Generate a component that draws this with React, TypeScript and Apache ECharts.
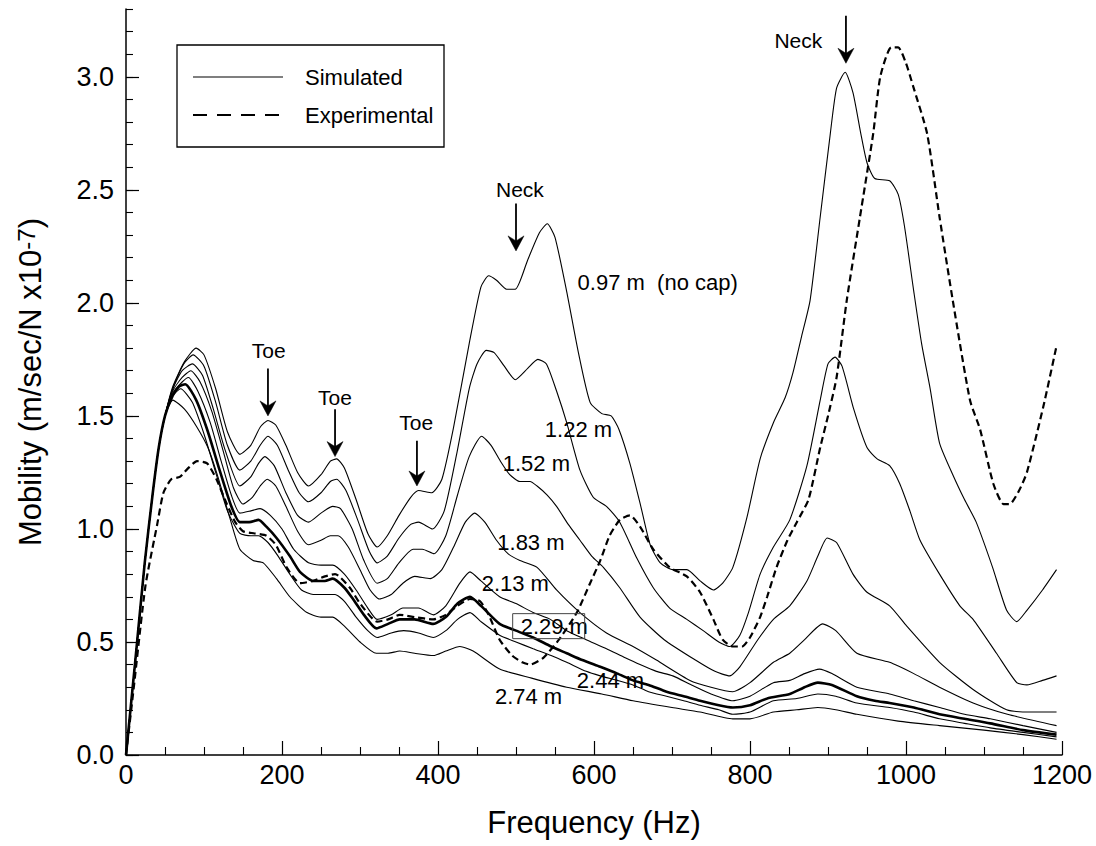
import React, { useEffect, useRef } from "react";
import * as echarts from "echarts";

const FONT = "'Liberation Sans', Arial, Helvetica, sans-serif";

// ---- Data (frequency Hz, mobility m/sec/N x1e-7) ----
const sim097: number[][] = [
  [0, 0], [12, 0.42], [24, 0.85], [34, 1.15], [42, 1.36], [50, 1.5], [60, 1.63], [75, 1.74], [90, 1.8], [100, 1.77],
  [115, 1.62], [130, 1.43], [146, 1.33], [160, 1.37], [172, 1.45], [182, 1.48], [192, 1.46], [205, 1.37], [220, 1.25],
  [234, 1.19], [250, 1.24], [262, 1.3], [270, 1.31], [280, 1.27], [295, 1.13], [310, 0.98], [322, 0.92], [335, 0.97],
  [350, 1.06], [365, 1.14], [375, 1.17], [392, 1.16], [405, 1.22], [420, 1.45], [440, 1.82], [455, 2.07], [465, 2.12],
  [475, 2.1], [488, 2.06], [499, 2.06], [515, 2.19], [530, 2.31], [540, 2.35], [550, 2.29], [565, 2.05], [580, 1.78],
  [595, 1.56], [610, 1.51], [622, 1.5], [632, 1.44], [646, 1.29], [660, 1.1], [672, 0.93], [685, 0.85], [701, 0.82],
  [719, 0.82], [736, 0.77], [753, 0.73], [765, 0.76], [778, 0.83], [796, 1.05], [813, 1.31], [830, 1.47], [845, 1.58],
  [855, 1.69], [866, 1.85], [877, 2.01], [890, 2.38], [903, 2.75], [911, 2.95], [922, 3.02], [932, 2.93], [942, 2.75],
  [950, 2.62], [960, 2.55], [979, 2.54], [990, 2.48], [998, 2.34], [1010, 2.05], [1020, 1.82], [1031, 1.62],
  [1043, 1.38], [1060, 1.24], [1075, 1.13], [1090, 1.03], [1111, 0.83], [1129, 0.64], [1142, 0.59], [1155, 0.64],
  [1175, 0.73], [1193, 0.82],
];

const sim122: number[][] = [
  [0, 0], [12, 0.42], [24, 0.85], [34, 1.15], [42, 1.36], [50, 1.5], [60, 1.62], [74, 1.73], [86, 1.77], [100, 1.72],
  [115, 1.56], [130, 1.37], [146, 1.26], [160, 1.3], [172, 1.37], [182, 1.41], [194, 1.37], [208, 1.26], [222, 1.16],
  [234, 1.12], [250, 1.16], [262, 1.21], [270, 1.22], [282, 1.17], [297, 1.04], [312, 0.9], [322, 0.85], [335, 0.88],
  [350, 0.96], [365, 1.02], [375, 1.03], [393, 1.0], [408, 1.08], [425, 1.35], [440, 1.62], [450, 1.73], [462, 1.79],
  [472, 1.78], [485, 1.72], [499, 1.66], [515, 1.71], [528, 1.75], [539, 1.73], [552, 1.61], [565, 1.47], [582, 1.26],
  [599, 1.14], [616, 1.1], [633, 1.03], [655, 0.87], [676, 0.74], [697, 0.65], [719, 0.6], [740, 0.55], [760, 0.5],
  [774, 0.48], [787, 0.53], [798, 0.63], [813, 0.8], [830, 0.92], [851, 1.04], [873, 1.28], [890, 1.57], [900, 1.73],
  [909, 1.76], [918, 1.72], [933, 1.53], [950, 1.36], [963, 1.31], [979, 1.28], [992, 1.2], [1005, 1.08], [1018, 0.95],
  [1043, 0.8], [1069, 0.66], [1086, 0.6], [1116, 0.45], [1142, 0.32], [1155, 0.31], [1175, 0.33], [1193, 0.35],
];

const sim152: number[][] = [
  [0, 0], [12, 0.42], [24, 0.85], [34, 1.15], [42, 1.36], [50, 1.5], [60, 1.62], [72, 1.7], [85, 1.73], [98, 1.68],
  [112, 1.53], [127, 1.35], [146, 1.19], [160, 1.23], [170, 1.29], [178, 1.32], [190, 1.28], [205, 1.16], [220, 1.06],
  [234, 1.03], [250, 1.07], [265, 1.1], [275, 1.09], [290, 1.0], [305, 0.86], [322, 0.76], [335, 0.78], [350, 0.85],
  [368, 0.91], [380, 0.91], [395, 0.89], [410, 0.97], [425, 1.15], [440, 1.32], [456, 1.41], [468, 1.37], [480, 1.3],
  [492, 1.24], [505, 1.21], [518, 1.21], [527, 1.19], [540, 1.15], [552, 1.1], [567, 1.02], [582, 0.95], [597, 0.88],
  [612, 0.83], [633, 0.74], [659, 0.61], [690, 0.51], [730, 0.42], [755, 0.37], [774, 0.35], [787, 0.39], [810, 0.51],
  [830, 0.6], [851, 0.66], [873, 0.77], [887, 0.88], [899, 0.96], [911, 0.94], [932, 0.8], [950, 0.72], [979, 0.66],
  [1001, 0.57], [1043, 0.41], [1086, 0.29], [1129, 0.2], [1160, 0.19], [1193, 0.19],
];

const sim183: number[][] = [
  [0, 0], [12, 0.42], [24, 0.85], [34, 1.15], [42, 1.36], [50, 1.5], [60, 1.61], [72, 1.67], [83, 1.7], [95, 1.65],
  [110, 1.52], [125, 1.34], [138, 1.18], [150, 1.11], [162, 1.14], [172, 1.19], [181, 1.22], [192, 1.19], [205, 1.1],
  [220, 0.99], [234, 0.93], [250, 0.95], [262, 0.97], [272, 0.97], [285, 0.92], [300, 0.82], [313, 0.73], [325, 0.69],
  [340, 0.71], [355, 0.76], [370, 0.79], [390, 0.78], [405, 0.82], [420, 0.92], [435, 1.03], [447, 1.07], [460, 1.03],
  [475, 0.95], [490, 0.89], [505, 0.86], [527, 0.83], [552, 0.73], [582, 0.63], [616, 0.54], [650, 0.48], [680, 0.42],
  [723, 0.33], [750, 0.3], [778, 0.28], [800, 0.32], [830, 0.41], [851, 0.45], [870, 0.51], [893, 0.58], [910, 0.55],
  [937, 0.45], [979, 0.41], [1010, 0.36], [1043, 0.3], [1086, 0.23], [1130, 0.18], [1193, 0.13],
];

const sim213: number[][] = [
  [0, 0], [12, 0.42], [24, 0.85], [34, 1.15], [42, 1.36], [50, 1.5], [60, 1.6], [72, 1.65], [80, 1.67], [92, 1.61],
  [108, 1.47], [122, 1.3], [135, 1.15], [146, 1.07], [160, 1.08], [172, 1.09], [185, 1.06], [200, 1.0], [215, 0.91],
  [234, 0.85], [250, 0.84], [265, 0.84], [280, 0.8], [295, 0.73], [310, 0.65], [322, 0.6], [340, 0.62], [355, 0.65],
  [375, 0.65], [394, 0.62], [410, 0.66], [428, 0.76], [441, 0.81], [455, 0.77], [479, 0.7], [500, 0.67], [522, 0.63],
  [544, 0.6], [565, 0.55], [590, 0.51], [616, 0.47], [640, 0.43], [659, 0.4], [680, 0.37], [701, 0.35], [725, 0.31],
  [750, 0.27], [778, 0.24], [800, 0.26], [830, 0.32], [851, 0.33], [870, 0.36], [889, 0.38], [905, 0.36], [937, 0.3],
  [979, 0.27], [1010, 0.24], [1043, 0.21], [1075, 0.18], [1108, 0.16], [1150, 0.13], [1193, 0.1],
];

const sim229: number[][] = [
  [0, 0], [12, 0.42], [24, 0.85], [34, 1.15], [42, 1.36], [50, 1.5], [60, 1.59], [68, 1.63], [76, 1.64], [90, 1.57],
  [105, 1.43], [120, 1.26], [135, 1.1], [146, 1.03], [158, 1.03], [170, 1.04], [180, 1.01], [193, 0.96], [210, 0.88],
  [223, 0.81], [240, 0.77], [255, 0.77], [265, 0.78], [280, 0.74], [291, 0.69], [305, 0.62], [321, 0.56], [336, 0.58],
  [351, 0.6], [370, 0.6], [394, 0.58], [410, 0.61], [425, 0.67], [441, 0.7], [455, 0.66], [479, 0.58], [500, 0.55],
  [522, 0.52], [545, 0.48], [565, 0.45], [585, 0.42], [608, 0.39], [630, 0.36], [650, 0.33], [670, 0.31], [693, 0.28],
  [715, 0.26], [736, 0.24], [760, 0.22], [778, 0.21], [800, 0.22], [822, 0.25], [851, 0.27], [870, 0.3], [887, 0.32],
  [905, 0.31], [937, 0.26], [960, 0.24], [979, 0.23], [1010, 0.21], [1043, 0.18], [1075, 0.16], [1108, 0.14],
  [1150, 0.11], [1193, 0.09],
];

const sim244: number[][] = [
  [0, 0], [12, 0.42], [24, 0.85], [34, 1.15], [42, 1.36], [50, 1.5], [58, 1.58], [70, 1.62], [85, 1.56], [100, 1.42],
  [115, 1.25], [130, 1.08], [146, 0.98], [160, 0.97], [170, 0.97], [182, 0.94], [195, 0.88], [210, 0.8], [225, 0.73],
  [240, 0.71], [255, 0.71], [268, 0.71], [280, 0.68], [295, 0.61], [310, 0.55], [322, 0.52], [340, 0.54], [356, 0.55],
  [375, 0.54], [394, 0.52], [410, 0.55], [425, 0.6], [441, 0.63], [455, 0.59], [479, 0.53], [500, 0.5], [522, 0.47],
  [545, 0.44], [565, 0.41], [590, 0.37], [608, 0.35], [630, 0.33], [650, 0.31], [670, 0.28], [693, 0.26], [715, 0.24],
  [736, 0.22], [760, 0.2], [778, 0.18], [800, 0.19], [830, 0.24], [860, 0.25], [887, 0.27], [910, 0.26], [937, 0.23],
  [979, 0.21], [1010, 0.19], [1043, 0.16], [1075, 0.14], [1108, 0.12], [1150, 0.1], [1193, 0.08],
];

const sim274: number[][] = [
  [0, 0], [12, 0.42], [24, 0.85], [34, 1.15], [42, 1.36], [50, 1.5], [60, 1.57], [75, 1.53], [91, 1.45], [105, 1.36],
  [117, 1.24], [133, 1.05], [146, 0.91], [163, 0.86], [176, 0.85], [193, 0.78], [210, 0.7], [232, 0.63], [250, 0.61],
  [265, 0.61], [280, 0.57], [300, 0.5], [321, 0.45], [336, 0.45], [351, 0.46], [370, 0.45], [394, 0.44], [410, 0.46],
  [428, 0.48], [445, 0.46], [479, 0.38], [520, 0.34], [565, 0.3], [610, 0.27], [650, 0.24], [700, 0.21], [736, 0.19],
  [778, 0.16], [800, 0.16], [830, 0.19], [860, 0.2], [887, 0.21], [910, 0.2], [937, 0.18], [990, 0.15], [1043, 0.13],
  [1100, 0.11], [1150, 0.09], [1193, 0.07],
];

const experimental: number[][] = [
  [0, 0], [10, 0.3], [25, 0.75], [40, 1.02], [48, 1.16], [58, 1.22], [69, 1.23], [80, 1.27], [91, 1.3], [104, 1.29],
  [116, 1.22], [128, 1.12], [140, 1.03], [150, 0.99], [165, 0.98], [180, 0.97], [192, 0.93], [206, 0.83], [223, 0.76],
  [240, 0.77], [255, 0.79], [268, 0.8], [287, 0.74], [300, 0.67], [322, 0.59], [336, 0.6], [351, 0.62], [370, 0.61],
  [394, 0.6], [410, 0.62], [425, 0.66], [441, 0.69], [454, 0.68], [465, 0.62], [479, 0.51], [495, 0.44], [508, 0.41],
  [518, 0.4], [535, 0.43], [555, 0.51], [578, 0.63], [595, 0.76], [608, 0.86], [620, 0.97], [633, 1.04], [646, 1.06],
  [659, 1.01], [676, 0.91], [697, 0.83], [719, 0.79], [736, 0.72], [753, 0.6], [765, 0.51], [778, 0.48], [790, 0.48],
  [800, 0.52], [813, 0.61], [822, 0.7], [834, 0.83], [848, 0.95], [860, 1.03], [875, 1.13], [890, 1.36], [900, 1.5],
  [911, 1.67], [924, 2.01], [941, 2.38], [958, 2.75], [967, 3.0], [981, 3.13], [990, 3.13], [1000, 3.06], [1009, 2.96],
  [1027, 2.75], [1043, 2.38], [1060, 2.01], [1082, 1.57], [1095, 1.44], [1112, 1.2], [1125, 1.11], [1133, 1.11],
  [1145, 1.17], [1155, 1.25], [1176, 1.54], [1193, 1.81],
];

const SIMULATED = [
  { name: "0.97 m", data: sim097 },
  { name: "1.22 m", data: sim122 },
  { name: "1.52 m", data: sim152 },
  { name: "1.83 m", data: sim183 },
  { name: "2.13 m", data: sim213 },
  { name: "2.29 m", data: sim229 },
  { name: "2.44 m", data: sim244 },
  { name: "2.74 m", data: sim274 },
];

const Y_MAJOR = [0, 0.5, 1.0, 1.5, 2.0, 2.5, 3.0];

// Annotation labels (text + anchor in data units)
const CURVE_LABELS = [
  { text: "0.97 m  (no cap)", at: [579, 2.09] },
  { text: "1.22 m", at: [537, 1.44] },
  { text: "1.52 m", at: [483, 1.29] },
  { text: "1.83 m", at: [476, 0.94] },
  { text: "2.13 m", at: [456, 0.76] },
  { text: "2.29 m", at: [506, 0.57], boxed: true },
  { text: "2.44 m", at: [578, 0.33] },
  { text: "2.74 m", at: [473, 0.26] },
];

const ARROWS = [
  { text: "Toe", textAt: [183, 1.79], from: [182, 1.71], to: [182, 1.5] },
  { text: "Toe", textAt: [268, 1.58], from: [268, 1.53], to: [268, 1.32] },
  { text: "Toe", textAt: [372, 1.47], from: [373, 1.39], to: [373, 1.19] },
  { text: "Neck", textAt: [505, 2.5], from: [500, 2.44], to: [500, 2.23] },
  { text: "Neck", textAt: [862, 3.16], from: [923, 3.27], to: [923, 3.06] },
];

const GRID = { left: 126, right: 34, top: 9, bottom: 91 };

export default function App() {
  const ref = useRef<HTMLDivElement>(null);

  useEffect(() => {
    const chart = echarts.init(ref.current!, null, { renderer: "svg" });

    const series: any[] = SIMULATED.map((s) => ({
      name: s.name,
      type: "line",
      data: s.data,
      xAxisIndex: 0,
      yAxisIndex: 0,
      symbol: "none",
      smooth: 0.2,
      lineStyle: { color: "#000", width: s.name === "2.29 m" ? 2.6 : 1.1 },
      z: s.name === "2.29 m" ? 4 : 3,
    }));
    series.push({
      name: "Experimental",
      type: "line",
      data: experimental,
      xAxisIndex: 0,
      yAxisIndex: 0,
      symbol: "none",
      smooth: 0.2,
      lineStyle: { color: "#000", width: 2.2, type: [7, 4] },
      z: 5,
    });

    const option: any = {
      animation: false,
      backgroundColor: "#fff",
      grid: [
        { ...GRID },
        { ...GRID },
      ],
      xAxis: [
        {
          type: "value",
          gridIndex: 0,
          min: 0,
          max: 1200,
          interval: 200,
          name: "Frequency (Hz)",
          nameLocation: "middle",
          nameGap: 52,
          nameTextStyle: { fontSize: 31, color: "#000", fontFamily: FONT },
          axisLine: { lineStyle: { color: "#000", width: 1.5 } },
          axisTick: { inside: true, length: 14, lineStyle: { color: "#000", width: 1.2 } },
          minorTick: { show: true, splitNumber: 4, length: 8, lineStyle: { color: "#000", width: 1.1 } },
          splitLine: { show: false },
          minorSplitLine: { show: false },
          axisLabel: {
            fontSize: 27,
            color: "#000",
            fontFamily: FONT,
            margin: 6,
            formatter: (v: number) => String(v),
          },
        },
        {
          type: "value",
          gridIndex: 1,
          min: 0,
          max: 1200,
          show: false,
        },
      ],
      yAxis: [
        {
          type: "value",
          gridIndex: 0,
          min: 0,
          max: 3.3,
          interval: 0.5,
          name: "Mobility (m/sec/N x10{sup|-7})",
          nameLocation: "middle",
          nameGap: 80,
          nameTextStyle: {
            fontSize: 31,
            color: "#000",
            fontFamily: FONT,
            rich: {
              sup: { fontSize: 24, color: "#000", fontFamily: FONT, verticalAlign: "top", padding: [0, 0, 8, 0] },
            },
          },
          axisLine: { show: true, lineStyle: { color: "#000", width: 1.5 } },
          axisTick: {
            show: true,
            inside: true,
            length: 13,
            customValues: Y_MAJOR,
            lineStyle: { color: "#000", width: 1.2 },
          },
          splitLine: { show: false },
          axisLabel: {
            fontSize: 27,
            color: "#000",
            fontFamily: FONT,
            margin: 12,
            customValues: Y_MAJOR,
            formatter: (v: number) => v.toFixed(1),
          },
        },
        {
          type: "value",
          gridIndex: 1,
          min: 0,
          max: 3.3,
          interval: 0.1,
          axisLine: { show: false },
          axisTick: { show: true, inside: true, length: 7, lineStyle: { color: "#000", width: 1.1 } },
          axisLabel: { show: false },
          splitLine: { show: false },
        },
      ],
      series,
    };

    chart.setOption(option);

    const px = (v: number[]) => chart.convertToPixel({ gridIndex: 0 }, v) as number[];
    const g: any[] = [];

    // Legend box
    g.push({
      type: "rect",
      shape: { x: 177, y: 45, width: 267, height: 102 },
      style: { fill: "#fff", stroke: "#000", lineWidth: 1.3 },
      z: 10,
    });
    g.push({
      type: "line",
      shape: { x1: 193, y1: 77, x2: 283, y2: 77 },
      style: { stroke: "#000", lineWidth: 1.1 },
      z: 11,
    });
    g.push({
      type: "line",
      shape: { x1: 193, y1: 115, x2: 283, y2: 115 },
      style: { stroke: "#000", lineWidth: 2.2, lineDash: [14, 10] },
      z: 11,
    });
    g.push({
      type: "text",
      x: 305,
      y: 77,
      style: { text: "Simulated", fontSize: 22, fontFamily: FONT, fill: "#000", align: "left", verticalAlign: "middle" },
      z: 11,
    });
    g.push({
      type: "text",
      x: 305,
      y: 115,
      style: { text: "Experimental", fontSize: 22, fontFamily: FONT, fill: "#000", align: "left", verticalAlign: "middle" },
      z: 11,
    });

    // Curve labels
    CURVE_LABELS.forEach((l) => {
      const p = px(l.at);
      g.push({
        type: "text",
        x: p[0],
        y: p[1],
        style: { text: l.text, fontSize: 22, fontFamily: FONT, fill: "#000", align: "left", verticalAlign: "middle" },
        z: 12,
      });
      if (l.boxed) {
        g.push({
          type: "rect",
          shape: { x: p[0] - 8, y: p[1] - 12.5, width: 72, height: 25 },
          style: { fill: "none", stroke: "#444", lineWidth: 1 },
          z: 12,
        });
      }
    });

    // Arrows with labels
    ARROWS.forEach((a) => {
      const t = px(a.textAt);
      const f = px(a.from);
      const e = px(a.to);
      g.push({
        type: "text",
        x: t[0],
        y: t[1],
        style: { text: a.text, fontSize: 21, fontFamily: FONT, fill: "#000", align: "center", verticalAlign: "middle" },
        z: 12,
      });
      g.push({
        type: "line",
        shape: { x1: f[0], y1: f[1], x2: e[0], y2: e[1] - 8 },
        style: { stroke: "#000", lineWidth: 1.8 },
        z: 12,
      });
      g.push({
        type: "polygon",
        shape: {
          points: [
            [e[0], e[1]],
            [e[0] - 8, e[1] - 15],
            [e[0], e[1] - 10],
            [e[0] + 8, e[1] - 15],
          ],
        },
        style: { fill: "#000", stroke: "#000", lineWidth: 0.5 },
        z: 12,
      });
    });

    chart.setOption({ graphic: g });

    return () => chart.dispose();
  }, []);

  return (
    <div
      ref={ref}
      style={{ position: "fixed", left: 0, top: 0, width: 1096, height: 846, background: "#fff" }}
    />
  );
}
